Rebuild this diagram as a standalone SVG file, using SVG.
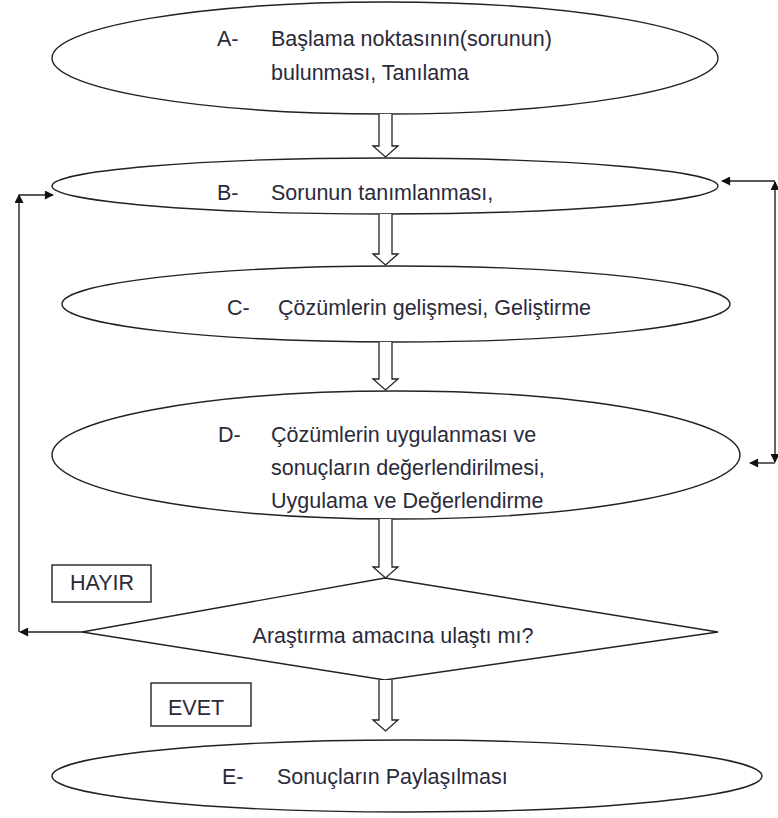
<svg xmlns="http://www.w3.org/2000/svg" width="778" height="818" viewBox="0 0 778 818">
<style>
.sh{fill:#fff;stroke:#222;stroke-width:1.4}
.t{font-family:"Liberation Sans",Arial,sans-serif;font-size:21.5px;fill:#2a2a3a}
.c{fill:none;stroke:#222;stroke-width:1.4}
.ha{fill:#fff;stroke:#222;stroke-width:1.3}
</style>
<defs>
<marker id="ah" viewBox="0 0 10 10" refX="9" refY="5" markerWidth="11" markerHeight="9" markerUnits="userSpaceOnUse" orient="auto"><path d="M0,0 L10,5 L0,10 Z" fill="#111"/></marker>
</defs>
<rect width="778" height="818" fill="#fff"/>
<g id="nodeA"><ellipse class="sh" cx="385" cy="58" rx="333" ry="56"/>
<text class="t" x="217" y="46">A-</text><text class="t" x="271" y="46">Başlama noktasının(sorunun)</text>
<text class="t" x="271" y="80">bulunması, Tanılama</text></g>
<g id="nodeB"><ellipse class="sh" cx="385" cy="186" rx="333" ry="28"/>
<text class="t" x="217" y="200">B-</text><text class="t" x="271" y="200">Sorunun tanımlanması,</text></g>
<g id="nodeC"><ellipse class="sh" cx="396" cy="304" rx="334" ry="38"/>
<text class="t" x="227" y="315">C-</text><text class="t" x="278" y="315">Çözümlerin gelişmesi, Geliştirme</text></g>
<g id="nodeD"><ellipse class="sh" cx="396" cy="455" rx="344" ry="64"/>
<text class="t" x="218" y="442">D-</text><text class="t" x="271" y="442">Çözümlerin uygulanması ve</text>
<text class="t" x="271" y="475">sonuçların değerlendirilmesi,</text>
<text class="t" x="271" y="508">Uygulama ve Değerlendirme</text></g>
<g id="decision"><polygon class="sh" points="385,578 718,632 385,680 82,632"/>
<text class="t" x="393" y="643" text-anchor="middle">Araştırma amacına ulaştı mı?</text></g>
<g id="hayir"><rect class="sh" x="52" y="565" width="99" height="37"/><text class="t" x="70" y="590">HAYIR</text></g>
<g id="evet"><rect class="sh" x="151" y="683" width="100" height="43"/><text class="t" x="168" y="715">EVET</text></g>
<g id="nodeE"><ellipse class="sh" cx="407" cy="776" rx="355" ry="36"/>
<text class="t" x="222" y="784">E-</text><text class="t" x="277" y="784">Sonuçların Paylaşılması</text></g>
<g id="connectors">
<path class="ha" d="M379,114 V146 H373 L385.5,157 L398,146 H392 V114"/>
<path class="ha" d="M379,214 V254 H373 L385.5,265 L398,254 H392 V214"/>
<path class="ha" d="M379,342 V379 H373 L385.5,390 L398,379 H392 V342"/>
<path class="ha" d="M379,519 V567 H373 L385.5,578 L398,567 H392 V519"/>
<path class="ha" d="M379,680 V720 H373 L385.5,731 L398,720 H392 V680"/>
<line class="c" x1="82" y1="632" x2="20" y2="632" marker-end="url(#ah)"/>
<line class="c" x1="19" y1="632" x2="19" y2="195" marker-end="url(#ah)"/>
<line class="c" x1="19" y1="195" x2="53" y2="195" marker-end="url(#ah)"/>
<line class="c" x1="775" y1="181" x2="722" y2="181" marker-end="url(#ah)"/>
<line class="c" x1="775" y1="320" x2="775" y2="182" marker-end="url(#ah)"/>
<line class="c" x1="775" y1="320" x2="775" y2="462" marker-end="url(#ah)"/>
<line class="c" x1="775" y1="463" x2="750" y2="463" marker-end="url(#ah)"/>
</g>
</svg>
